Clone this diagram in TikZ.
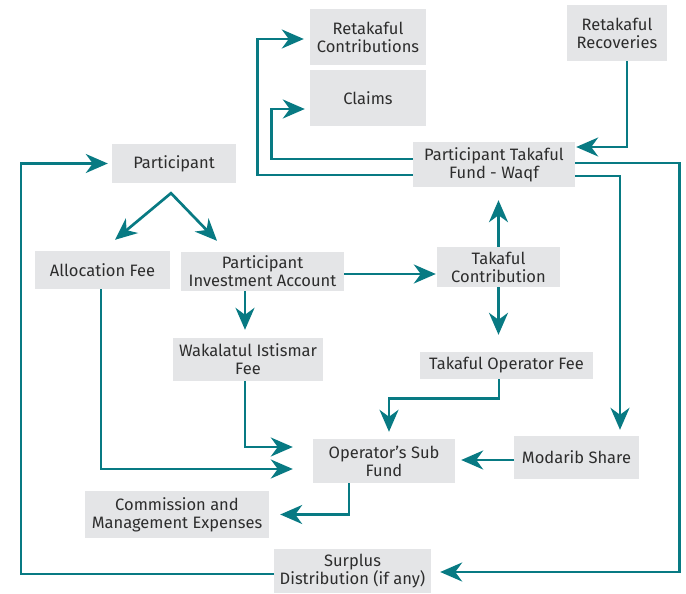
\documentclass[tikz,border=0pt]{standalone}
\usepackage{fontspec}
\setmainfont{Fira Sans}
\usetikzlibrary{arrows.meta,calc}
\definecolor{tealc}{RGB}{8,122,131}
\definecolor{boxgray}{RGB}{228,229,231}
\definecolor{textgray}{RGB}{45,45,45}
\begin{document}
\begin{tikzpicture}[x=1pt,y=-1pt,
  box/.style={fill=boxgray, text=textgray, align=center, inner sep=0pt,
    font=\fontsize{16.5}{18}\selectfont},
  arr/.style={draw=tealc, line width=2.7pt,
    -{Stealth[length=22pt,width=19pt,inset=7pt]}}]
\useasboundingbox (0,0) rectangle (686,594);

\node[box, minimum width=116pt, minimum height=56pt] (rc) at (368,37) {Retakaful\\Contributions};
\node[box, minimum width=116pt, minimum height=56pt] (claims) at (368,98) {Claims};
\node[box, minimum width=100pt, minimum height=56pt] (rr) at (617,33) {Retakaful\\Recoveries};
\node[box, minimum width=124pt, minimum height=39pt] (part) at (174,163.5) {Participant};
\node[box, minimum width=162pt, minimum height=45pt] (ptf) at (494,164.5) {Participant Takaful\\Fund - Waqf};
\node[box, minimum width=135pt, minimum height=38pt] (alloc) at (102.5,270) {Allocation Fee};
\node[box, minimum width=163pt, minimum height=39pt] (pia) at (262.5,271.5) {Participant\\Investment Account};
\node[box, minimum width=123pt, minimum height=40pt] (tc) at (498.5,267) {Takaful\\Contribution};
\node[box, minimum width=150pt, minimum height=43pt] (wak) at (248,359.5) {Wakalatul Istismar\\Fee};
\node[box, minimum width=173pt, minimum height=27pt] (tof) at (506.5,365.5) {Takaful Operator Fee};
\node[box, minimum width=142pt, minimum height=44pt] (osf) at (384,461) {Operator’s Sub\\Fund};
\node[box, minimum width=125pt, minimum height=43pt] (mod) at (576.5,457.5) {Modarib Share};
\node[box, minimum width=184pt, minimum height=47pt] (comm) at (177,514.5) {Commission and\\Management Expenses};
\node[box, minimum width=157pt, minimum height=44pt] (surp) at (352.5,571) {Surplus\\Distribution (if any)};

% left loop: surplus -> participant
\draw[arr, shorten >=4pt] ([yshift=-3pt]surp.west) -| (21,163.5) -- (part.west);
% PTF -> Retakaful contributions
\draw[arr, shorten >=6pt] ([yshift=-10.5pt]ptf.west) -| ([xshift=-52pt,yshift=-2pt]rc.west) -- ([yshift=-2pt]rc.west);
% PTF -> Claims
\draw[arr, shorten >=5pt] ([yshift=5.5pt]ptf.west) -| ([xshift=-38pt,yshift=-11pt]claims.west) -- ([yshift=-11pt]claims.west);
% Retakaful recoveries -> PTF
\draw[arr, shorten >=1pt] ([xshift=10pt]rr.south) |- ([yshift=17.5pt]ptf.east);
% PTF -> Surplus
\draw[arr, shorten >=9pt] ([yshift=1.5pt]ptf.east) -| ([xshift=248pt,yshift=-1pt]surp.east) -- ([yshift=-1pt]surp.east);
% PTF -> Modarib
\draw[arr, shorten >=6pt] ([yshift=-11.5pt]ptf.east) -| ([xshift=43.5pt]mod.north);
% Participant split
\coordinate (apex) at ([xshift=-3pt,yshift=-10pt]part.south);
\draw[draw=tealc, line width=2.7pt, line join=miter,
  {Stealth[length=22pt,width=19pt,inset=7pt]}-{Stealth[length=22pt,width=19pt,inset=7pt]}]
  ([xshift=12.5pt,yshift=11pt]alloc.north) -- (apex) -- ([xshift=-45.5pt,yshift=11pt]pia.north);
% PIA -> TC
\draw[arr, shorten >=1pt] ([yshift=-2.5pt]pia.east) -- ([yshift=-2.5pt]pia.east -| tc.west);
% TC -> PTF
\draw[arr, shorten >=13pt] (tc.north) -- (tc.north |- ptf.south);
% TC -> TOF
\draw[arr, shorten >=17pt] (tc.south) -- (tc.south |- tof.north);
% PIA -> Wakalatul
\draw[arr, shorten >=8pt] ([xshift=-3pt]wak.north |- pia.south) -- ([xshift=-3pt]wak.north);
% TOF -> OSF
\draw[arr, shorten >=7pt] ([xshift=-7.5pt]tof.south) -- ++(0,19) -| ([xshift=5pt]osf.north);
% Wakalatul -> OSF
\draw[arr, shorten >=20pt] ([xshift=-3pt]wak.south) |- ([yshift=14pt]osf.west);
% Allocation -> OSF
\draw[arr, shorten >=20pt] ([xshift=-1.5pt]alloc.south) |- ([yshift=-8pt]osf.west);
% Modarib -> OSF
\draw[arr, shorten >=6pt] ([yshift=-2.5pt]mod.west) -- ([yshift=-2.5pt]mod.west -| osf.east);
% OSF -> Commission
\draw[arr, shorten >=11pt] ([xshift=-35pt]osf.south) |- (comm.east);
\end{tikzpicture}
\end{document}
